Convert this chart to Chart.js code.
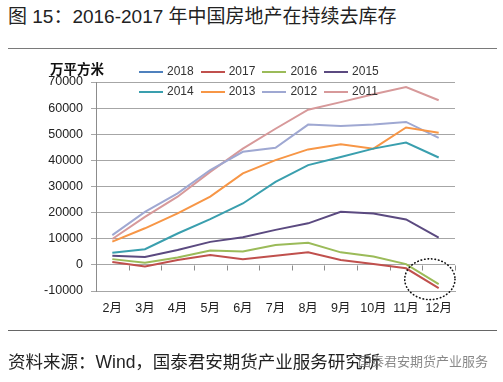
<!DOCTYPE html>
<html><head><meta charset="utf-8">
<script src="https://cdn.jsdelivr.net/npm/chart.js@4/dist/chart.umd.min.js"></script>
<style>
html,body{margin:0;padding:0;background:#fff;}
body{width:503px;height:382px;overflow:hidden;position:relative;font-family:"Liberation Sans","Noto Sans CJK SC",sans-serif;}
#title{position:absolute;left:8px;top:4px;font-size:19px;color:#222;white-space:nowrap;line-height:26px;}
.hr{position:absolute;left:8px;width:489px;height:1px;background:#7a7a7a;}
#c{position:absolute;left:0;top:0;}
#unit{position:absolute;left:50px;top:61px;font-size:13.5px;font-weight:bold;color:#111;white-space:nowrap;line-height:18px;}
.lg{position:absolute;font-size:12px;color:#333;line-height:14px;white-space:nowrap;}
.lg i{position:absolute;left:0;top:7px;width:24px;height:2px;}
.lg span{position:absolute;left:28px;top:0;}
#src{position:absolute;left:8px;top:350px;font-size:17.5px;color:#222;white-space:nowrap;line-height:24px;}
#wm{position:absolute;left:358px;top:354px;font-size:13px;color:rgba(105,105,105,0.8);white-space:nowrap;line-height:16px;}
</style></head>
<body>
<div id="title">图 15：2016-2017 年中国房地产在持续去库存</div>
<div class="hr" style="top:48px"></div>
<canvas id="c" width="503" height="382"></canvas>
<div id="unit">万平方米</div>
<div id="legend"></div>
<div class="hr" style="top:330px;background:#666"></div>
<div id="src">资料来源：Wind，国泰君安期货产业服务研究所</div>
<div id="wm">国泰君安期货产业服务</div>
<script>
const months = ['2月','3月','4月','5月','6月','7月','8月','9月','10月','11月','12月'];
const seriesNames = ['2018','2017','2016','2015','2014','2013','2012','2011'];
const s2018 = [];
const s2017 = [1100,-600,1900,3800,2200,3500,4800,1900,300,-1300,-8900];
const s2016 = [2200,800,2800,5500,5100,7600,8500,4800,3200,300,-7400];
const s2015 = [3500,3000,5700,8800,10600,13400,15900,20300,19700,17400,10400];
const s2014 = [4600,6000,12000,17500,23500,31800,38200,41300,44500,46800,41100];
const s2013 = [8900,14000,19700,26100,35000,40100,44200,46200,44500,52600,50600];
const s2012 = [11400,20300,27400,36300,43300,44800,53700,53200,53700,54700,48600];
const s2011 = [9900,18400,26100,35600,44500,52100,59400,62300,65300,68100,63000];
const yMin = -10000, yMax = 70000, yStep = 10000;

const seriesData = [s2018,s2017,s2016,s2015,s2014,s2013,s2012,s2011];
const colors = ['#4f81bd','#c0504d','#9bbb59','#5b4a80','#3a9fae','#f79646','#9fa8d2','#d7999a'];

// HTML legend
const lg = document.getElementById('legend');
seriesNames.forEach((n,i)=>{
  const d = document.createElement('div');
  d.className='lg';
  d.style.left = (139 + 61.7*(i%4)) + 'px';
  d.style.top = (i<4 ? 64 : 84) + 'px';
  d.innerHTML = '<i style="background:'+colors[i]+'"></i><span>'+n+'</span>';
  lg.appendChild(d);
});

const decor = {
  id:'decor',
  beforeDatasetsDraw(chart){
    const {ctx, scales:{x,y}} = chart;
    const y0 = Math.round(y.getPixelForValue(0)) + 0.5;
    ctx.save();
    ctx.strokeStyle = '#8c8c8c'; ctx.lineWidth = 1;
    ctx.beginPath();
    for(let i=0;i<=months.length;i++){
      const px = Math.round(x.getPixelForValue(i-0.5)) + 0.5;
      ctx.moveTo(px,y0); ctx.lineTo(px,y0+5);
    }
    ctx.stroke();
    ctx.restore();
  },
  afterDatasetsDraw(chart){
    const {ctx, scales:{x,y}} = chart;
    const cx = x.getPixelForValue(9.73);
    const cy = y.getPixelForValue(-5500);
    const rx = (x.getPixelForValue(1)-x.getPixelForValue(0))*0.77;
    const ry = (y.getPixelForValue(0)-y.getPixelForValue(10000))*0.78;
    ctx.save();
    ctx.strokeStyle = '#111'; ctx.lineWidth = 1.6; ctx.lineCap='round';
    ctx.setLineDash([0.5,3]);
    ctx.beginPath();
    ctx.ellipse(cx,cy,rx,ry,0,0,Math.PI*2);
    ctx.stroke();
    ctx.restore();
  }
};

new Chart(document.getElementById('c'), {
  type:'line',
  data:{
    labels: months,
    datasets: seriesNames.map((n,i)=>({
      label:n, data:seriesData[i], borderColor:colors[i], backgroundColor:colors[i],
      borderWidth:2, pointRadius:0, tension:0, fill:false
    }))
  },
  options:{
    responsive:false, maintainAspectRatio:false, animation:false,
    layout:{padding:{left:0,right:48,top:82,bottom:51}},
    plugins:{legend:{display:false}, tooltip:{enabled:false}},
    scales:{
      x:{
        offset:true,
        grid:{display:false, drawTicks:false},
        border:{display:true,color:'#a6a6a6'},
        ticks:{padding:10,color:'#222',font:{size:12.5,family:'"Liberation Sans","Noto Sans CJK SC",sans-serif'},maxRotation:0,autoSkip:false},
        afterFit(s){s.height=40;}
      },
      y:{
        min:yMin,max:yMax,
        ticks:{stepSize:yStep,padding:8,color:'#222',font:{size:12.5,family:'"Liberation Sans",sans-serif'},callback:(v)=>String(v)},
        grid:{color:'#a6a6a6',lineWidth:1,tickLength:5,drawTicks:true},
        border:{display:true,color:'#8c8c8c'},
        afterFit(s){s.width=96;}
      }
    }
  },
  plugins:[decor]
});
</script>
</body></html>
